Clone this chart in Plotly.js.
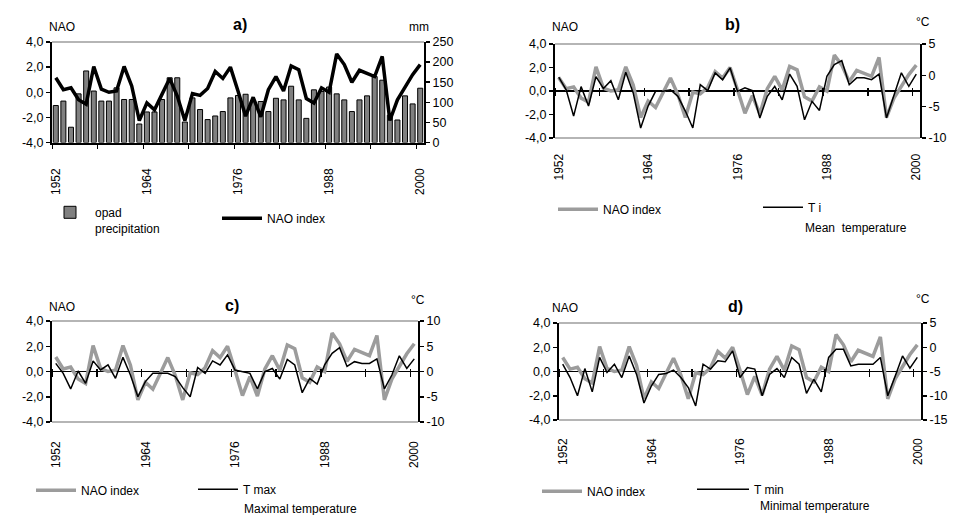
<!DOCTYPE html>
<html><head><meta charset="utf-8">
<script src="https://cdn.plot.ly/plotly-3.0.1.min.js"></script>
<style>html,body{margin:0;padding:0;background:#fff}#chart{width:956px;height:515px}</style>
</head><body><div id="chart"></div>
<script>
// ---------- data ----------
const years = [1952,1953,1954,1955,1956,1957,1958,1959,1960,1961,1962,1963,1964,1965,1966,1967,1968,1969,1970,
  1971,1972,1973,1974,1975,1976,1977,1978,1979,1980,1981,1982,1983,1984,1985,1986,1987,1988,1989,1990,
  1991,1992,1993,1994,1995,1996,1997,1998,1999,2000];
const naoIndex = [1.15,0.2,0.35,-0.6,-0.95,2.05,0.25,0.0,0.1,2.05,0.5,-2.25,-0.85,-1.4,-0.15,1.1,-0.3,-2.25,-0.1,
  -0.25,0.3,1.65,1.1,2.0,0.1,-1.9,-0.4,-1.95,0.2,1.25,0.1,2.1,1.8,-0.5,-0.85,0.35,0.0,3.05,2.2,
  0.8,1.75,1.5,1.25,2.85,-2.25,-0.6,0.4,1.4,2.2];
const precipitation = [92,103,38,121,178,128,103,103,136,107,107,46,76,76,107,161,161,51,111,
  82,57,66,77,111,117,120,102,102,77,110,106,140,106,60,131,127,138,121,106,
  77,106,116,164,155,68,56,116,96,135];
const tMean = [-0.3,-2.3,-6.5,-1.8,-4.9,-0.2,-2.1,-0.85,-3.9,0.5,-2.8,-8.4,-4.9,-2.55,-2.55,-2.3,-3.35,-5.7,-8.4,
  -1.5,-2.45,0.4,-0.7,1.2,-2.55,-2.0,-2.45,-6.8,-3.35,-1.75,-3.9,0.2,-1.75,-7.1,-4.15,-5.6,-0.15,1.7,2.35,
  -1.5,-0.4,-0.4,-0.7,0.2,-6.8,-3.2,0.4,-1.75,0.2];
const tMax = [1.6,-0.36,-3.45,0.1,-2.35,2.1,0.3,1.3,-1.35,2.8,-0.7,-5.0,-2.0,-0.36,-0.36,-0.36,-1.0,-3.2,-5.0,
  0.8,-0.36,2.1,1.3,3.3,0.3,0.0,-0.36,-3.45,0.0,0.6,-1.5,2.4,1.3,-4.2,-1.35,-2.5,1.3,3.6,4.7,
  1.0,1.95,1.6,1.6,2.5,-3.45,-0.7,3.1,0.6,2.5];
const tMin = [-3.5,-6.25,-10.0,-4.4,-9.2,-2.1,-5.2,-3.5,-6.25,-1.8,-5.6,-11.5,-8.0,-5.6,-5.4,-4.7,-6.25,-8.3,-12.1,
  -3.5,-4.5,-2.8,-3.0,-0.75,-6.25,-4.2,-4.5,-10.0,-5.6,-4.4,-6.25,-2.1,-3.5,-9.5,-6.6,-9.2,-2.1,-0.4,-0.4,
  -3.85,-3.5,-3.5,-3.5,-2.1,-10.0,-6.0,-1.8,-4.3,-2.1];

const yearTickText = ['1952','','1964','','1976','','1988','','2000'];
const naoTickVals = [-4,-2,0,2,4];
const naoTickText = ['-4,0','-2,0','0,0','2,0','4,0'];
const mmTickVals = [0,50,100,150,200,250];
const mmTickText = ['0','50','100','150','200','250'];
const tMeanTicks = [-10,-5,0,5];
const tMeanText = ['-10','-5','0','5'];
const tMaxTicks = [-10,-5,0,5,10];
const tMaxText = ['-10','-5','0','5','10'];
const tMinTicks = [-15,-10,-5,0,5];
const tMinText = ['-15','-10','-5','0','5'];

// ---------- layout helpers ----------
const W = 956, H = 515;
const fx = p => p / W;
const fy = p => 1 - p / H;
const FONT = 'Liberation Sans, Arial, Helvetica, sans-serif';
const GREY = '#9c9c9c';
const tickVals = years.filter((y, i) => i % 6 === 0).map(y => y - 0.5);
const xRange = [years[0] - 0.5, years[years.length - 1] + 0.5];

const P = {
  a: {l: 52, r: 424, t: 42, b: 142.5, lab: 15},
  b: {l: 555, r: 920, t: 44, b: 138, lab: 6},
  c: {l: 52, r: 418, t: 321, b: 422, lab: 9},
  d: {l: 559, r: 921, t: 323, b: 420, lab: 8}
};

function xAxisBottom(p) {
  return {
    domain: [fx(p.l), fx(p.r)], anchor: 'y', range: xRange,
    tickmode: 'array', tickvals: tickVals, ticktext: yearTickText,
    ticks: 'outside', ticklen: 4, tickcolor: '#000', tickwidth: 1,
    showline: true, linecolor: '#000', linewidth: 2,
    tickangle: -90, ticklabelshift: 4, ticklabelstandoff: p.lab,
    showgrid: false, zeroline: false, fixedrange: true
  };
}
function xAxisZero(p) {
  const zero = (p.t + p.b) / 2;
  return {
    domain: [fx(p.l), fx(p.r)], anchor: 'free', position: fy(zero - 4), range: xRange,
    tickmode: 'array', tickvals: tickVals, ticktext: yearTickText,
    ticks: 'outside', ticklen: 8, tickcolor: '#000', tickwidth: 1.5,
    showline: false, tickangle: -90, ticklabelshift: 4,
    ticklabelstandoff: Math.round(p.b - zero + p.lab),
    showgrid: false, zeroline: false, fixedrange: true
  };
}
function yAxis(p, anchor, range, vals, text, side, extra) {
  return Object.assign({
    domain: [fy(p.b), fy(p.t)], anchor: anchor, side: side, range: range,
    tickmode: 'array', tickvals: vals, ticktext: text,
    ticks: 'outside', ticklen: 4, tickcolor: '#000', tickwidth: 1.5,
    showline: true, linecolor: '#000', linewidth: 2,
    showgrid: false, zeroline: false, fixedrange: true,
    tickfont: {family: FONT, size: 12.5, color: '#000'}
  }, extra || {});
}
const zeroExtra = {zeroline: true, zerolinecolor: '#000', zerolinewidth: 1.5};

function leg(x0, yc, w) {
  return {
    x: fx(x0), y: fy(yc - 13), xanchor: 'left', yanchor: 'top', orientation: 'h',
    bgcolor: 'rgba(0,0,0,0)', borderwidth: 0, itemwidth: w, valign: 'top',
    font: {family: FONT, size: 12, color: '#000'}, itemclick: false, itemdoubleclick: false
  };
}
function ann(text, x, y, opts) {
  return Object.assign({
    text: text, xref: 'paper', yref: 'paper', x: fx(x), y: fy(y),
    xanchor: 'left', yanchor: 'middle', showarrow: false,
    font: {family: FONT, size: 12, color: '#000'}
  }, opts || {});
}
function title(text, x, y) {
  return ann('<b>' + text + '</b>', x, y, {xanchor: 'center', font: {family: FONT, size: 16, color: '#000'}});
}
function frameLine(xr, yr, yv) {
  return {type: 'line', xref: xr + ' domain', yref: yr + ' domain', x0: 0, x1: 1, y0: yv, y1: yv,
          line: {color: GREY, width: 1.5}, layer: 'below'};
}

// ---------- traces ----------
const traces = [
  {type: 'bar', x: years, y: precipitation, xaxis: 'x', yaxis: 'y', name: 'opad<br>precipitation',
   marker: {color: '#808080', line: {color: '#000', width: 1}}, legend: 'legend', showlegend: true, hoverinfo: 'skip'},
  {type: 'scatter', mode: 'lines', x: years, y: naoIndex, xaxis: 'x', yaxis: 'y2', name: 'NAO index',
   line: {color: '#000', width: 3.5}, legend: 'legend2', showlegend: true, hoverinfo: 'skip'},

  {type: 'scatter', mode: 'lines', x: years, y: naoIndex, xaxis: 'x2', yaxis: 'y3', name: 'NAO index',
   line: {color: GREY, width: 3.5}, legend: 'legend3', showlegend: true, hoverinfo: 'skip'},
  {type: 'scatter', mode: 'lines', x: years, y: tMean, xaxis: 'x2', yaxis: 'y4', name: 'T i',
   line: {color: '#000', width: 1.5}, legend: 'legend4', showlegend: true, hoverinfo: 'skip'},

  {type: 'scatter', mode: 'lines', x: years, y: naoIndex, xaxis: 'x3', yaxis: 'y5', name: 'NAO index',
   line: {color: GREY, width: 3.5}, legend: 'legend5', showlegend: true, hoverinfo: 'skip'},
  {type: 'scatter', mode: 'lines', x: years, y: tMax, xaxis: 'x3', yaxis: 'y6', name: 'T max',
   line: {color: '#000', width: 1.5}, legend: 'legend6', showlegend: true, hoverinfo: 'skip'},

  {type: 'scatter', mode: 'lines', x: years, y: naoIndex, xaxis: 'x4', yaxis: 'y7', name: 'NAO index',
   line: {color: GREY, width: 3.5}, legend: 'legend7', showlegend: true, hoverinfo: 'skip'},
  {type: 'scatter', mode: 'lines', x: years, y: tMin, xaxis: 'x4', yaxis: 'y8', name: 'T min',
   line: {color: '#000', width: 1.5}, legend: 'legend8', showlegend: true, hoverinfo: 'skip'}
];

// ---------- layout ----------
const layout = {
  width: W, height: H, margin: {l: 0, r: 0, t: 0, b: 0},
  paper_bgcolor: '#fff', plot_bgcolor: 'rgba(0,0,0,0)',
  font: {family: FONT, size: 12, color: '#000'},
  hovermode: false, dragmode: false, bargap: 0.34, showlegend: true,

  xaxis: xAxisBottom(P.a),
  yaxis: yAxis(P.a, 'x', [0, 250], mmTickVals, mmTickText, 'right'),
  yaxis2: yAxis(P.a, 'x', [-4, 4], naoTickVals, naoTickText, 'left', {overlaying: 'y'}),

  xaxis2: xAxisZero(P.b),
  yaxis3: yAxis(P.b, 'x2', [-4, 4], naoTickVals, naoTickText, 'left', zeroExtra),
  yaxis4: yAxis(P.b, 'x2', [-10, 5], tMeanTicks, tMeanText, 'right', {overlaying: 'y3'}),

  xaxis3: xAxisZero(P.c),
  yaxis5: yAxis(P.c, 'x3', [-4, 4], naoTickVals, naoTickText, 'left', zeroExtra),
  yaxis6: yAxis(P.c, 'x3', [-10, 10], tMaxTicks, tMaxText, 'right', {overlaying: 'y5'}),

  xaxis4: xAxisZero(P.d),
  yaxis7: yAxis(P.d, 'x4', [-4, 4], naoTickVals, naoTickText, 'left', zeroExtra),
  yaxis8: yAxis(P.d, 'x4', [-15, 5], tMinTicks, tMinText, 'right', {overlaying: 'y7'}),

  legend: leg(45, 211, 40),
  legend2: leg(217, 217, 40),
  legend3: leg(553, 208, 40),
  legend4: leg(758, 206, 40),
  legend5: leg(31, 489, 40),
  legend6: leg(193, 488, 40),
  legend7: leg(537, 490, 40),
  legend8: leg(692, 488, 52),

  shapes: [
    frameLine('x', 'y', 1),
    frameLine('x2', 'y3', 1), frameLine('x2', 'y3', 0),
    frameLine('x3', 'y5', 1), frameLine('x3', 'y5', 0),
    frameLine('x4', 'y7', 1), frameLine('x4', 'y7', 0)
  ],

  annotations: [
    ann('NAO', 47, 27), title('a)', 240, 25), ann('mm', 407, 27),
    ann('NAO', 550, 27), title('b)', 732, 24), ann('°C', 914, 22),
    ann('NAO', 47, 307), title('c)', 232, 305), ann('°C', 409, 300),
    ann('NAO', 550, 308), title('d)', 735, 306), ann('°C', 914, 299),
    ann('Mean  temperature', 803, 228),
    ann('Maximal temperature', 242, 509),
    ann('Minimal temperature', 758, 506)
  ]
};

Plotly.newPlot('chart', traces, layout, {staticPlot: true, displayModeBar: false});
</script>
</body></html>
